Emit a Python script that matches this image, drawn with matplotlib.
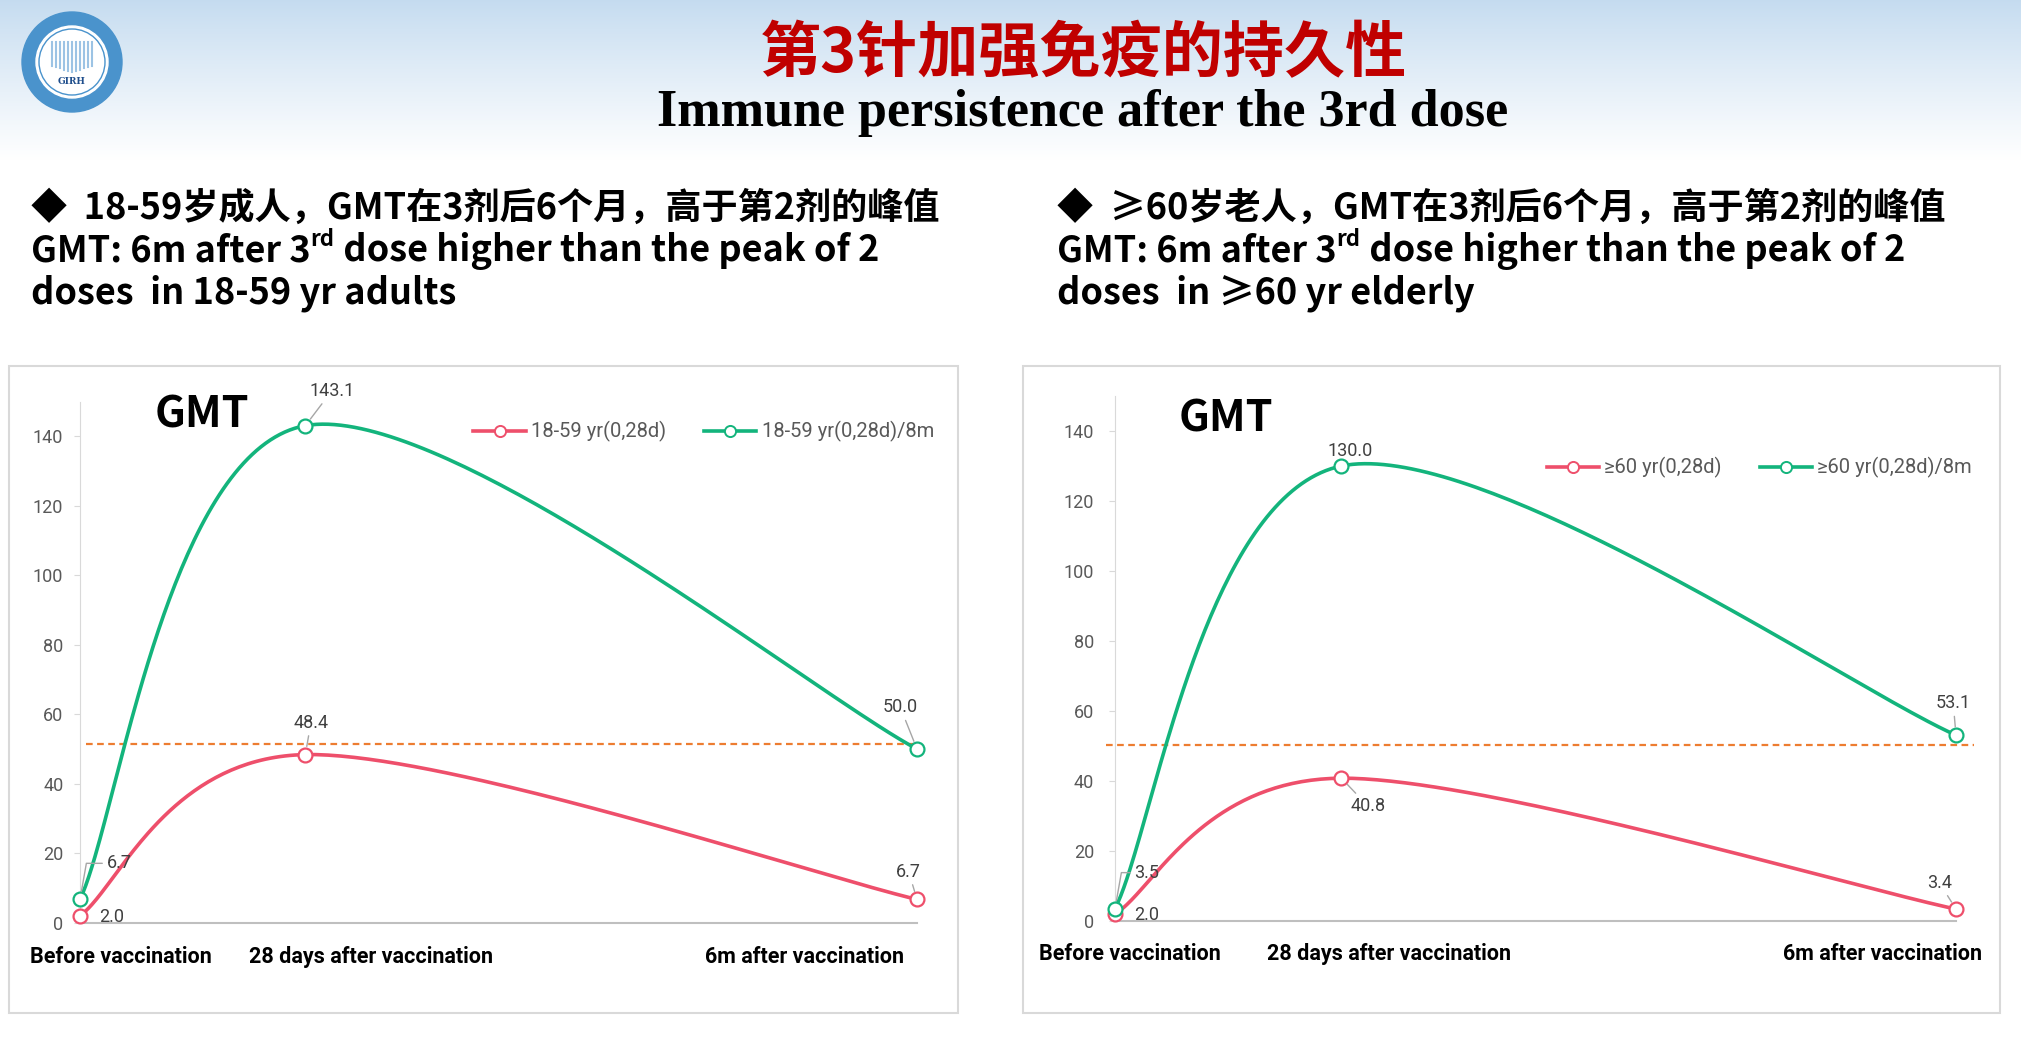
import matplotlib
matplotlib.use('Agg')
import matplotlib.pyplot as plt
import numpy as np
from matplotlib.lines import Line2D
from matplotlib.patches import Rectangle, Circle

# ---- data ----
categories = ['Before vaccination', '28 days after vaccination', '6m after vaccination']
x_pos = [0, 28, 104]          # x values of the scatter chart
adult_2dose = [2.0, 48.4, 6.7]
adult_3dose = [6.7, 143.1, 50.0]
elder_2dose = [2.0, 40.8, 3.4]
elder_3dose = [3.5, 130.0, 53.1]
adult_names = ['18-59 yr(0,28d)', '18-59 yr(0,28d)/8m']
elder_names = ['≥60 yr(0,28d)', '≥60 yr(0,28d)/8m']
ref_level = [51.4, 50.4]      # orange dashed reference line, left / right
y_ticks = [0, 20, 40, 60, 80, 100, 120, 140]

title_cn = '第3针加强免疫的持久性'
title_en = 'Immune persistence after the 3rd dose'
bullet_cn = ['◆  18-59岁成人，GMT在3剂后6个月，高于第2剂的峰值',
             '◆  ≥60岁老人，GMT在3剂后6个月，高于第2剂的峰值']
bullet_en3 = ['doses  in 18-59 yr adults', 'doses  in ≥60 yr elderly']

# ---- style ----
W, H = 2021, 1040
PINK = '#EE4F6B'
GREEN = '#13B47C'
GRAY_TXT = '#595959'
LBL_TXT = '#404040'
CJK = ['Noto Sans CJK SC', 'DejaVu Sans']
NARROW = ['Roboto', 'DejaVu Sans']

fig = plt.figure(figsize=(W / 100, H / 100), dpi=100)
bg = fig.add_axes([0, 0, 1, 1], zorder=0)
bg.set_xlim(0, W)
bg.set_ylim(H, 0)
bg.axis('off')

# header gradient
g = np.linspace(0, 1, 200)[:, None, None] ** 0.9
top = np.array([0.77, 0.86, 0.94])
img = top * (1 - g) + np.ones(3) * g
bg.imshow(img, extent=(0, W, 160, 0), aspect='auto', zorder=0)

# logo
bg.add_patch(Circle((72, 62), 50, color='#4A93CC', zorder=1))
bg.add_patch(Circle((72, 62), 36, color='white', zorder=2))
bg.add_patch(Circle((72, 62), 33, fill=False, ec='#4A93CC', lw=1, zorder=2))
for dx in np.arange(-20, 21, 4):
    bg.plot([72 + dx, 72 + dx], [42, 72 - abs(dx) * 0.3], color='#9CC3E4', lw=1.5, zorder=2)
bg.text(72, 82, 'GIRH', fontsize=6.5, color='#1F4E8C', weight='bold', family='DejaVu Serif',
        ha='center', va='center', zorder=3)

# titles
bg.text(1083, 54, title_cn, color='#C00000', fontsize=44, weight='bold', family=CJK,
        ha='center', va='center')
bg.text(1083, 113, title_en, color='black', fontsize=37.5, weight='bold', family='Liberation Serif',
        ha='center', va='center')


def bullet(x0, cn, en3):
    fs = 26
    bg.text(x0, 208, cn, fontsize=fs, weight='bold', family=CJK, va='center', ha='left')
    t1 = bg.text(x0, 251, 'GMT: 6m after 3', fontsize=fs, weight='bold', family=CJK,
                 va='center', ha='left')
    sup = bg.annotate('rd', xy=(1, 0.5), xycoords=t1, fontsize=16, weight='bold',
                      family=CJK, va='bottom', ha='left')
    bg.annotate(' dose higher than the peak of 2', xy=(1, 0), xycoords=(sup, t1),
                fontsize=fs, weight='bold', family=CJK, va='bottom', ha='left')
    bg.text(x0, 293, en3, fontsize=fs, weight='bold', family=CJK, va='center', ha='left')


bullet(31, bullet_cn[0], bullet_en3[0])
bullet(1057, bullet_cn[1], bullet_en3[1])

# panel frames
bg.add_patch(Rectangle((9, 366), 949, 647, fill=False, ec='#D9D9D9', lw=1.5))
bg.add_patch(Rectangle((1023, 366), 977, 647, fill=False, ec='#D9D9D9', lw=1.5))


def smooth(xs, ys, xlim, ylim, wpx, hpx, n=80):
    # Excel-like smoothed line: cubic Bezier through points, built in screen space
    P = np.column_stack([(np.asarray(xs) - xlim[0]) / (xlim[1] - xlim[0]) * wpx,
                         (np.asarray(ys) - ylim[0]) / (ylim[1] - ylim[0]) * hpx])
    out = []
    for i in range(len(P) - 1):
        p0, p1 = P[max(i - 1, 0)], P[i]
        p2, p3 = P[i + 1], P[min(i + 2, len(P) - 1)]
        c1 = p1 + (p2 - p0) / 6
        c2 = p2 - (p3 - p1) / 6
        t = np.linspace(0, 1, n)[:, None]
        out.append((1 - t) ** 3 * p1 + 3 * (1 - t) ** 2 * t * c1 + 3 * (1 - t) * t ** 2 * c2 + t ** 3 * p2)
    out = np.vstack(out)
    return (out[:, 0] / wpx * (xlim[1] - xlim[0]) + xlim[0],
            out[:, 1] / hpx * (ylim[1] - ylim[0]) + ylim[0])


def chart(box, series, names_, ref, ref_span, leg_anchor, labels, tick_pad):
    x0, y0, x1, y1 = box
    ax = fig.add_axes([x0 / W, 1 - y1 / H, (x1 - x0) / W, (y1 - y0) / H], zorder=2)
    ax.patch.set_alpha(0)
    xlim = (x_pos[0], x_pos[-1])
    ylim = (0, 150)
    ax.set_xlim(xlim)
    ax.set_ylim(ylim)
    for s in ['top', 'right']:
        ax.spines[s].set_visible(False)
    ax.spines['left'].set_color('#D9D9D9')
    ax.spines['bottom'].set_color('#BFBFBF')
    ax.spines['bottom'].set_linewidth(1.5)
    ax.set_xticks([])
    ax.set_yticks(y_ticks)
    ax.tick_params(axis='y', length=4, color='#D9D9D9', labelcolor=GRAY_TXT,
                   labelsize=13, pad=tick_pad)
    for lab in ax.get_yticklabels():
        lab.set_family(NARROW)

    ax.plot([ref_span[0], ref_span[1]], [ref, ref], transform=ax.get_yaxis_transform(),
            color='#ED7D31', ls=(0, (3, 2)), lw=1.6, clip_on=False, zorder=2)

    handles = []
    for ys, color, name in zip(series, [PINK, GREEN], names_):
        sx, sy = smooth(x_pos, ys, xlim, ylim, x1 - x0, y1 - y0)
        ax.plot(sx, sy, color=color, lw=2.6, clip_on=False, zorder=3)
        ax.plot(x_pos, ys, 'o', ms=10, mfc='white', mec=color, mew=1.6,
                clip_on=False, zorder=4)
        handles.append(Line2D([], [], color=color, lw=2.6, marker='o', ms=8,
                              mfc='white', mec=color, mew=1.4, label=name))
    leg = ax.legend(handles=handles, loc='center', bbox_to_anchor=leg_anchor, ncol=2,
                    frameon=False, handlelength=2.6, handletextpad=0.25, columnspacing=1.9,
                    prop={'family': NARROW, 'size': 14.5})
    for t in leg.get_texts():
        t.set_color(GRAY_TXT)

    for si, idx, dx, dy, kind in labels:
        y = series[si][idx]
        arrow = None
        if kind == 'line':
            arrow = dict(arrowstyle='-', color='#A6A6A6', lw=1, shrinkA=1, shrinkB=6)
        elif kind == 'elbow':
            arrow = dict(arrowstyle='-', color='#A6A6A6', lw=1, shrinkA=1, shrinkB=6,
                         connectionstyle='angle,angleA=0,angleB=80,rad=0')
        ax.annotate(f'{y:.1f}', xy=(x_pos[idx], y), xytext=(dx, dy), textcoords='offset points',
                    ha='center', va='center', fontsize=13, color=LBL_TXT, family=NARROW,
                    arrowprops=arrow, annotation_clip=False, zorder=5)
    return ax


# label offsets in points: (series, point, dx, dy, leader)
adult_labels = [(1, 1, 19, 25, 'line'), (0, 1, 4, 23, 'line'), (1, 2, -12, 30, 'line'),
                (0, 2, -6, 20, 'line'), (1, 0, 28, 26, 'elbow'), (0, 0, 23, -1, None)]
elder_labels = [(1, 1, 6, 11, None), (0, 1, 19, -20, 'line'), (1, 2, -2, 23, 'line'),
                (0, 2, -12, 19, 'line'), (0, 0, 23, -1, None), (1, 0, 23, 26, 'elbow')]

chart((80, 401.7, 917, 922.7), [adult_2dose, adult_3dose], adult_names, ref_level[0],
      (0.007, 1.0), (0.745, 0.942), adult_labels, 8)
chart((1115, 396, 1956, 921), [elder_2dose, elder_3dose], elder_names, ref_level[1],
      (-0.011, 1.021), (0.766, 0.863), elder_labels, 11)

# GMT titles
for x, y in [(202, 414), (1226, 418)]:
    bg.text(x, y, 'GMT', fontsize=31, weight='bold', family=CJK, ha='center', va='center')

# category labels
for xs_, y in [((30, 249, 705), 957), ((1039, 1267, 1783), 954)]:
    for x, c in zip(xs_, categories):
        bg.text(x, y, c, fontsize=15.5, weight='bold', family=NARROW, ha='left', va='center')

fig.savefig('out.png', dpi=100)
